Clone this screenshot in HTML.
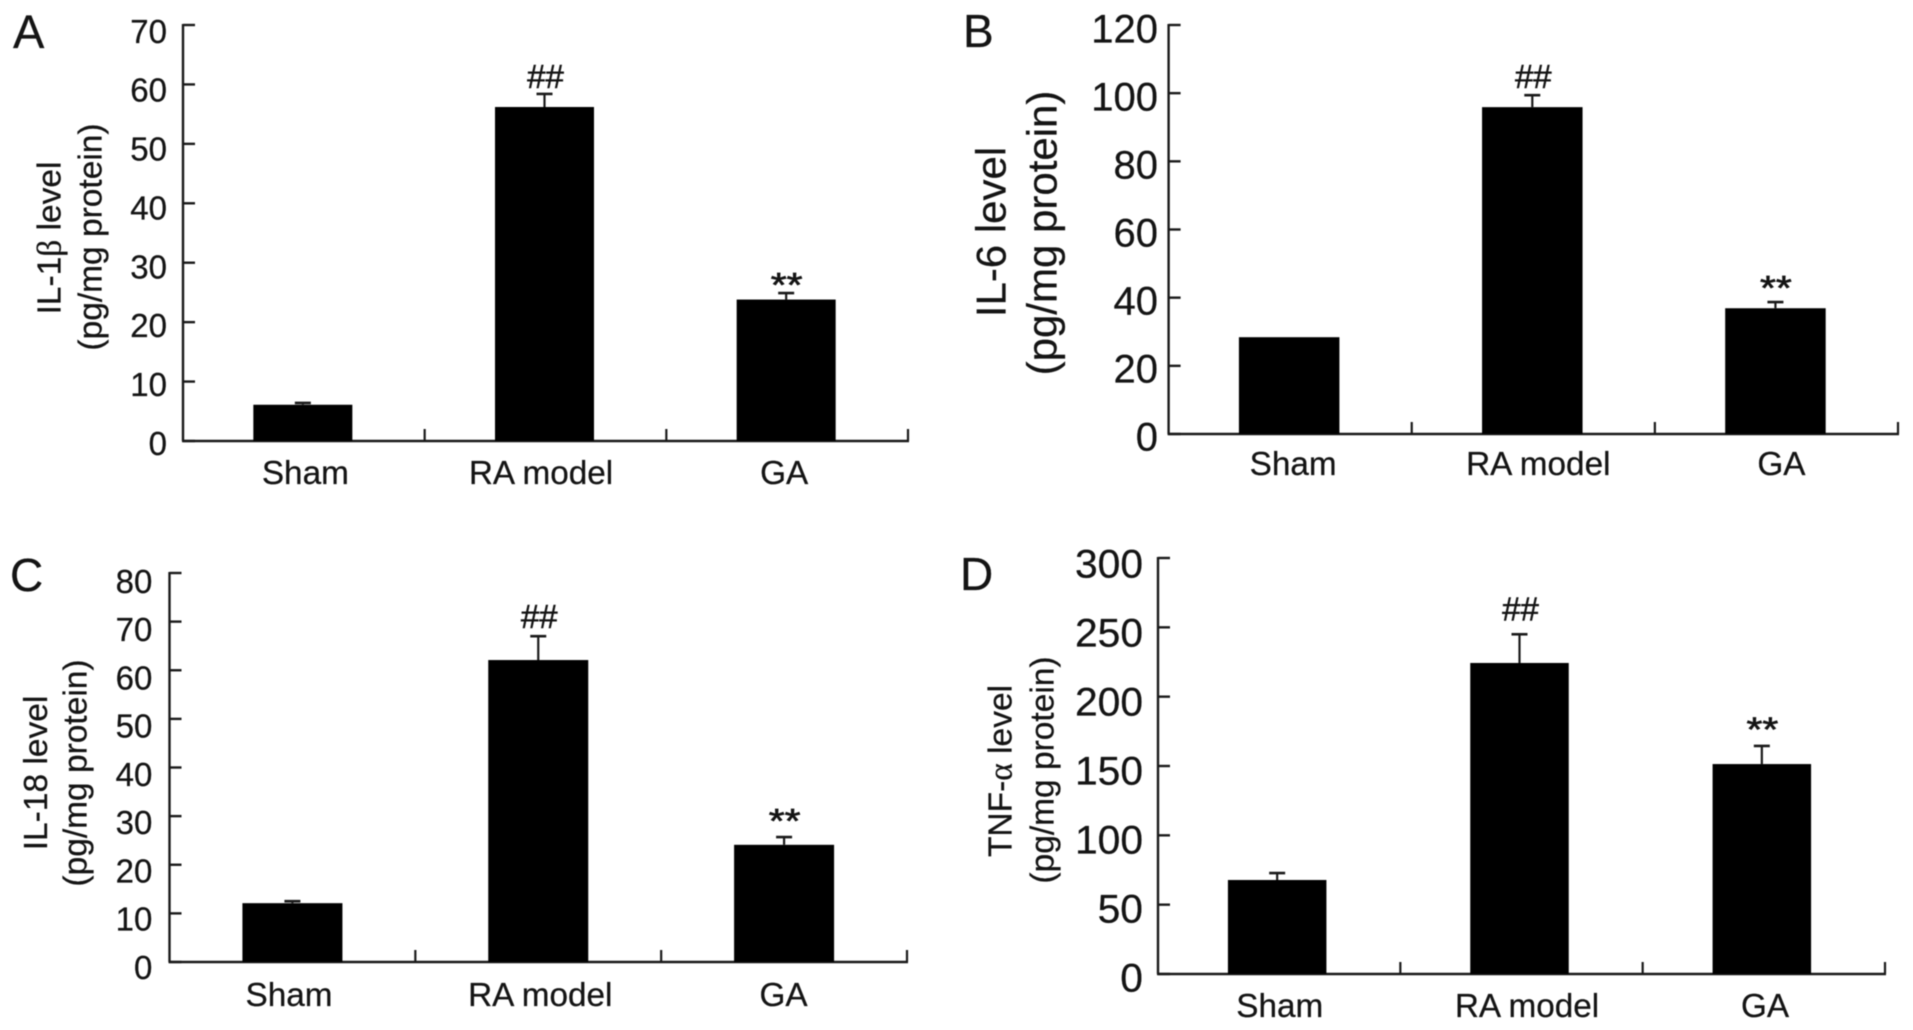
<!DOCTYPE html>
<html lang="en">
<head>
<meta charset="utf-8">
<title>Cytokine levels by group</title>
<style>
html,body{margin:0;padding:0;background:#fff;width:1913px;height:1030px;overflow:hidden}
svg{display:block;filter:blur(0.6px)}
text{font-family:"Liberation Sans",sans-serif;fill:#141414;stroke:#141414;stroke-width:0.25px}
.sym{font-family:"Liberation Serif",serif}
</style>
</head>
<body>
<svg id="figure" width="1913" height="1030" viewBox="0 0 1913 1030" xmlns="http://www.w3.org/2000/svg">
  <rect x="0" y="0" width="1913" height="1030" fill="#fff"/>

  <g id="panel-a">
    <text x="13" y="48" font-size="47">A</text>
    <text transform="translate(60.7,238) rotate(-90)" text-anchor="middle" font-size="33.5">IL-1<tspan class="sym">β</tspan> level</text>
    <text transform="translate(101.5,237) rotate(-90)" text-anchor="middle" font-size="33.5">(pg/mg protein)</text>
  </g>

  <g id="panel-b">
    <text x="963" y="47" font-size="46">B</text>
    <text transform="translate(1005.7,232) rotate(-90)" text-anchor="middle" font-size="42">IL-6 level</text>
    <text transform="translate(1056.4,233) rotate(-90)" text-anchor="middle" font-size="42">(pg/mg protein)</text>
  </g>

  <g id="panel-c">
    <text x="10" y="591" font-size="46">C</text>
    <text transform="translate(47,773) rotate(-90)" text-anchor="middle" font-size="33.5">IL-18 level</text>
    <text transform="translate(86.5,773) rotate(-90)" text-anchor="middle" font-size="33.5">(pg/mg protein)</text>
  </g>

  <g id="panel-d">
    <text x="960" y="590" font-size="46">D</text>
    <text transform="translate(1011.7,771) rotate(-90)" text-anchor="middle" font-size="33.5">TNF-<tspan class="sym">α</tspan> level</text>
    <text transform="translate(1053.4,770) rotate(-90)" text-anchor="middle" font-size="33.5">(pg/mg protein)</text>
  </g>
</svg>

<script>
// Shared category labels and significance markers
const categories = ['Sham', 'RA model', 'GA'];
const significance = ['', '##', '**'];

// Panel A: IL-1 beta
const ticksA = [0, 10, 20, 30, 40, 50, 60, 70];
const meansA = [6.1, 56.2, 23.8];
const errorsA = [0.3, 2.2, 1.1];

// Panel B: IL-6
const ticksB = [0, 20, 40, 60, 80, 100, 120];
const meansB = [28.4, 95.9, 36.9];
const errorsB = [0, 3.5, 1.8];

// Panel C: IL-18
const ticksC = [0, 10, 20, 30, 40, 50, 60, 70, 80];
const meansC = [12.1, 62.1, 24.1];
const errorsC = [0.4, 4.9, 1.6];

// Panel D: TNF-alpha
const ticksD = [0, 50, 100, 150, 200, 250, 300];
const meansD = [67.8, 224.3, 151.4];
const errorsD = [5, 20.7, 13.1];

const SVG_NS = 'http://www.w3.org/2000/svg';

function line(parent, x1, y1, x2, y2, width) {
  const el = document.createElementNS(SVG_NS, 'line');
  el.setAttribute('x1', x1);
  el.setAttribute('y1', y1);
  el.setAttribute('x2', x2);
  el.setAttribute('y2', y2);
  el.setAttribute('stroke', '#1a1a1a');
  el.setAttribute('stroke-width', width);
  parent.appendChild(el);
  return el;
}

function label(parent, x, y, str, size, anchor, sx) {
  const el = document.createElementNS(SVG_NS, 'text');
  el.setAttribute('transform', 'translate(' + x + ',' + y + ') scale(' + sx + ',1)');
  el.setAttribute('text-anchor', anchor);
  el.setAttribute('font-size', size);
  el.textContent = str;
  parent.appendChild(el);
  return el;
}

function drawPanel(p) {
  const g = document.getElementById(p.id);
  const maxTick = p.ticks[p.ticks.length - 1];
  const yScale = function (v) { return p.y0 - (v / maxTick) * (p.y0 - p.yTop); };
  const band = (p.xEnd - p.x0) / p.cats.length;
  const bandCenter = function (i) { return p.x0 + band * (i + 0.5) + p.barDx; };

  const yAxis = line(g, p.x0, p.yTop - 1, p.x0, p.y0, 2.4);
  
  

  const xAxis = line(g, p.x0 - 1, p.y0, p.xEnd + 1, p.y0, 2.6);
  
  

  p.ticks.forEach(function (t, i) {
    const y = yScale(t);
    const mark = line(g, p.x0, y, p.x0 + 12, y, 2.4);
    
    
    const off = p.tickDyLow + (p.tickDyHigh - p.tickDyLow) * (i / (p.ticks.length - 1));
    const txt = label(g, p.labelRight, y + off + p.tickSize * 0.36, String(t), p.tickSize, 'end', p.tickSx);
    
    
  });

  for (let i = 1; i <= p.cats.length; i++) {
    const x = p.x0 + band * i;
    const mark = line(g, x, p.y0, x, p.y0 - 12, 2.2);
    
    
  }

  p.cats.forEach(function (cat, i) {
    const cx = bandCenter(i);
    const top = yScale(p.means[i]);
    const bar = document.createElementNS(SVG_NS, 'rect');
    bar.setAttribute('x', cx - p.barW / 2);
    bar.setAttribute('y', top);
    bar.setAttribute('width', p.barW);
    bar.setAttribute('height', p.y0 - top);
    bar.setAttribute('fill', '#000');
    
    
    g.appendChild(bar);

    const capY = yScale(p.means[i] + p.errors[i]);
    if (p.errors[i] > 0) {
      const stem = line(g, cx, top, cx, capY, 2.2);
      
      
      const cap = line(g, cx - 8, capY, cx + 8, capY, 2.6);
      
      
    }

    const mk = p.marks[i];
    if (mk === '##') {
      const hash = label(g, cx + 1, capY - p.hashGap, mk, 33, 'middle', 1);
      
      
      hash.style.strokeWidth = '0.5px';
    } else if (mk === '**') {
      const star = label(g, cx + 0.5, capY - p.starGap, mk, 34, 'middle', 1.2);
      
      
      star.style.strokeWidth = '0.7px';
    }

    const catText = label(g, p.x0 + band * (i + 0.5) + p.labelDx[i], p.labelY, cat, 33.3, 'middle', 1);
    
    
  });
}

drawPanel({ id: 'panel-a', cats: categories, marks: significance, ticks: ticksA, means: meansA, errors: errorsA,
  x0: 183, xEnd: 908, yTop: 25, y0: 441, barW: 99, barDx: -1, labelRight: 167,
  tickSize: 33, tickSx: 1, tickDyLow: 2, tickDyHigh: 6, labelY: 484, labelDx: [1.5, -4.5, -3], hashGap: 6, starGap: -3.3 });

drawPanel({ id: 'panel-b', cats: categories, marks: significance, ticks: ticksB, means: meansB, errors: errorsB,
  x0: 1168.6, xEnd: 1898, yTop: 25, y0: 434, barW: 100.5, barDx: -1, labelRight: 1158,
  tickSize: 40, tickSx: 1, tickDyLow: 2, tickDyHigh: 3, labelY: 475, labelDx: [3, 5, 5], hashGap: 7, starGap: 2.7 });

drawPanel({ id: 'panel-c', cats: categories, marks: significance, ticks: ticksC, means: meansC, errors: errorsC,
  x0: 169.5, xEnd: 907, yTop: 573, y0: 962, barW: 100, barDx: 0, labelRight: 152.4,
  tickSize: 33, tickSx: 1, tickDyLow: 5, tickDyHigh: 8, labelY: 1006, labelDx: [-3.4, 2, -0.5], hashGap: 8, starGap: 4.7 });

drawPanel({ id: 'panel-d', cats: categories, marks: significance, ticks: ticksD, means: meansD, errors: errorsD,
  x0: 1158, xEnd: 1885, yTop: 558, y0: 974, barW: 98.5, barDx: -2, labelRight: 1143,
  tickSize: 40, tickSx: 1.02, tickDyLow: 3, tickDyHigh: 5, labelY: 1017, labelDx: [0.6, 5.5, 1.2], hashGap: 14, starGap: 4.7 });
</script>
</body>
</html>
